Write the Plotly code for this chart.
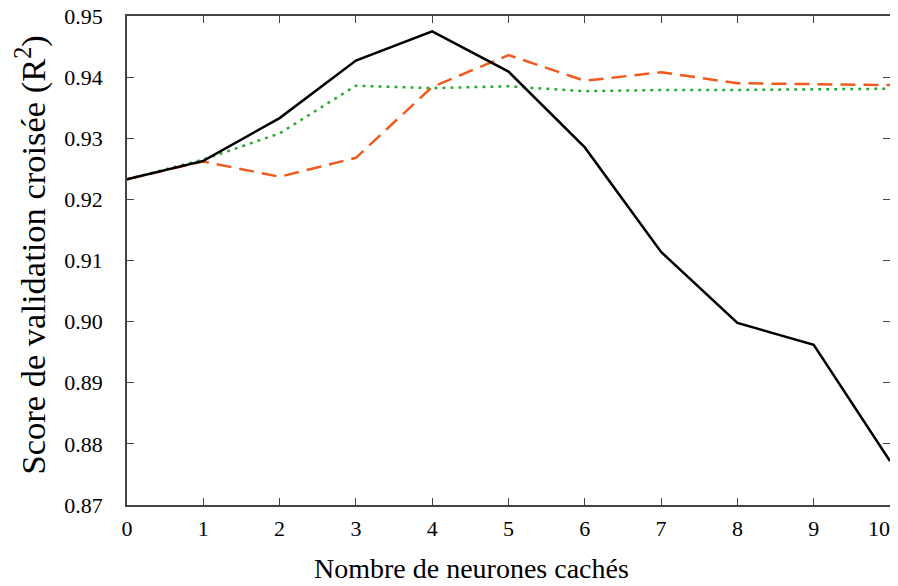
import plotly.graph_objects as go

x = [0, 1, 2, 3, 4, 5, 6, 7, 8, 9, 10]
xtick_labels = ["0", "1", "2", "3", "4", "5", "6", "7", "8", "9", "10"]
black = [0.9233, 0.9263, 0.9333, 0.9427, 0.9475, 0.9409, 0.9285, 0.9114, 0.8998, 0.8962, 0.8772]
orange = [0.9233, 0.9262, 0.9237, 0.9268, 0.9384, 0.9436, 0.9394, 0.9408, 0.9390, 0.9388, 0.9387]
green = [0.9233, 0.9265, 0.9308, 0.9386, 0.9382, 0.9385, 0.9377, 0.9379, 0.9379, 0.9380, 0.9381]
yticks = [0.87, 0.88, 0.89, 0.90, 0.91, 0.92, 0.93, 0.94, 0.95]
ytick_labels = ["0.87", "0.88", "0.89", "0.90", "0.91", "0.92", "0.93", "0.94", "0.95"]
xlabel = "Nombre de neurones cachés"
ylabel = "Score de validation croisée (R<sup>2</sup>)"

# keep the last tick label inside the visible page by padding it on the right
xticktext = xtick_labels[:-1] + [xtick_labels[-1] + "\u00a0" * 4]

fig = go.Figure()
fig.add_trace(go.Scatter(x=x, y=green, mode="lines",
                         line=dict(color="#2EAA3A", width=2.5, dash="3px,5px")))
fig.add_trace(go.Scatter(x=x, y=orange, mode="lines",
                         line=dict(color="#F05A1E", width=2.5, dash="15px,8px")))
fig.add_trace(go.Scatter(x=x, y=black, mode="lines",
                         line=dict(color="black", width=2.5)))

font = "Liberation Serif, Times New Roman, serif"
fig.update_layout(
    width=890, height=578,
    margin=dict(l=119, r=8, t=8, b=81),
    paper_bgcolor="white", plot_bgcolor="white",
    showlegend=False,
    font=dict(family=font, color="black"),
    annotations=[
        dict(text=xlabel, xref="paper", yref="paper", x=0.451, y=0,
             xanchor="center", yanchor="middle", yshift=-63, showarrow=False,
             font=dict(size=28, family=font, color="black")),
        dict(text=ylabel, xref="paper", yref="paper", x=0, y=0.5,
             xanchor="center", yanchor="middle", xshift=-97, yshift=5, textangle=-90,
             showarrow=False, font=dict(size=34.5, family=font, color="black")),
    ],
)
fig.update_xaxes(range=[0, 10], tickvals=x, ticktext=xticktext, ticks="inside", ticklen=7,
                 tickcolor="#444", mirror="ticks", showline=True, linecolor="#444",
                 linewidth=1.5, showgrid=False, zeroline=False, automargin=False,
                 ticklabeloverflow="allow", ticklabelstandoff=3,
                 tickfont=dict(size=22, family=font, color="black"))
fig.update_yaxes(range=[0.87, 0.95], tickvals=yticks, ticktext=ytick_labels, ticks="inside", ticklen=7,
                 tickcolor="#444", mirror="ticks", showline=True, linecolor="#444",
                 linewidth=1.5, showgrid=False, zeroline=False, automargin=False,
                 ticklabeloverflow="allow", ticklabelstandoff=18,
                 tickfont=dict(size=22, family=font, color="black"))

fig.write_html("out.html")
